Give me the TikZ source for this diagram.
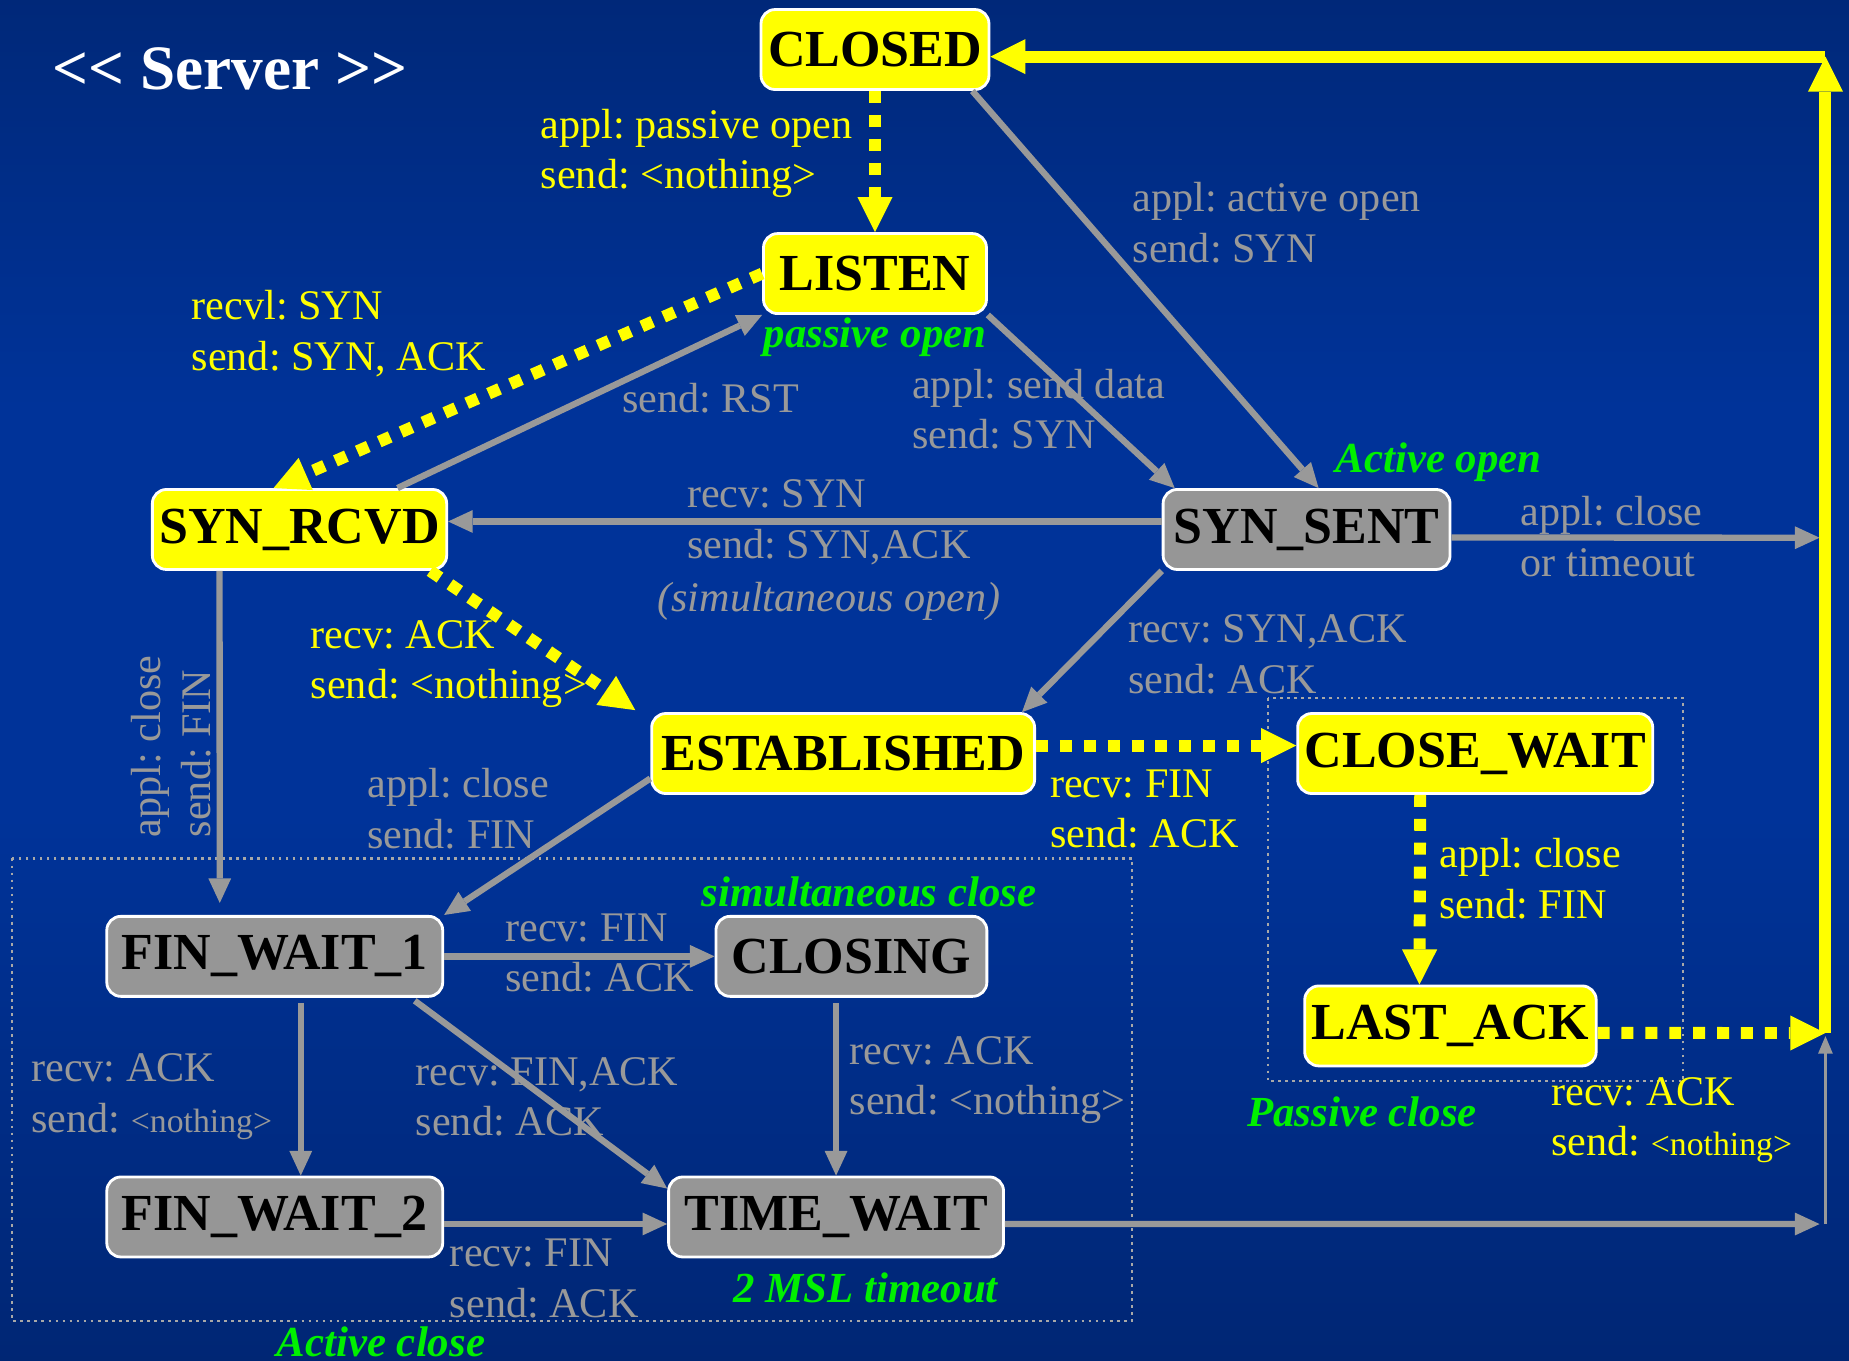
\documentclass[tikz,border=0pt]{standalone}
\usepackage{fontspec}
\setmainfont{Liberation Serif}
\usetikzlibrary{arrows.meta,calc}
\definecolor{bgtop}{RGB}{0,22,68}
\definecolor{bgmid}{RGB}{0,51,153}
\definecolor{bgbot}{RGB}{0,22,70}
\definecolor{lgray}{RGB}{153,153,153}
\definecolor{boxgray}{RGB}{150,150,150}
\definecolor{ylw}{RGB}{255,255,0}
\definecolor{grn}{RGB}{0,240,0}
\pgfdeclareverticalshading{fond}{100bp}{color(0bp)=(bgbot); color(45bp)=(bgmid); color(60bp)=(bgmid); color(100bp)=(bgtop)}
\newcommand{\petit}[1]{{\fontsize{9.6}{14.4}\selectfont #1}}
\frenchspacing
\tikzset{
  etat/.style={draw=white,line width=0.8pt,rounded corners=4pt,minimum height=0.8cm,
    inner xsep=2pt,inner ysep=0pt,font=\fontsize{14.8}{17}\selectfont\bfseries,text=black},
  jaune/.style={etat,fill=ylw},
  gris/.style={etat,fill=boxgray},
  gfl/.style={draw=lgray,line width=1.8pt,-{Triangle[length=7pt,width=6.5pt,line width=0pt]}},
  jfl/.style={draw=ylw,line width=3.4pt,-{Triangle[length=10pt,width=10pt,line width=0pt]}},
  jpt/.style={jfl,dash pattern=on 3.4pt off 3.4pt},
  lbl/.style={inner sep=0pt,align=left,anchor=west,font=\fontsize{12}{14.4}\selectfont},
  glbl/.style={lbl,text=lgray},
  jlbl/.style={lbl,text=ylw},
  vert/.style={inner sep=0pt,text=grn,font=\fontsize{12.2}{14}\selectfont\bfseries\itshape},
  zone/.style={draw=lgray!85,line width=0.6pt,dash pattern=on 0.8pt off 1.2pt},
}

\begin{document}
\begin{tikzpicture}[x=0.011792cm,y=-0.011792cm]
  \useasboundingbox (0,0) rectangle (1568,1154);
  \shade[shading=fond] (0,0) rectangle (1568,1154);
  % dotted zones
  \draw[zone] (10,728) rectangle (960,1120);
  \draw[zone] (1075,592) rectangle (1427,917);
  \node[text=white,font=\fontsize{18}{20}\selectfont\bfseries] (titre) at (195,58) {<\kern0pt< Server >\kern0pt>};
  % states
  \node[jaune,minimum width=2.23cm] (closed) at (742,42) {CLOSED};
  \node[jaune,minimum width=2.23cm] (listen) at (742,232) {LISTEN};
  \node[jaune,minimum width=2.89cm] (synrcvd) at (254,449) {SYN\_RCVD};
  \node[gris,minimum width=2.87cm] (synsent) at (1108,449) {SYN\_SENT};
  \node[jaune,minimum width=3.83cm] (estab) at (715,639) {ESTABLISHED};
  \node[jaune,minimum width=3.51cm] (closewait) at (1251,639) {CLOSE\_WAIT};
  \node[jaune,minimum width=2.89cm] (lastack) at (1230,870) {LAST\_ACK};
  \node[gris,minimum width=3.36cm] (fw1) at (233,811) {FIN\_WAIT\_1};
  \node[gris,minimum width=2.71cm] (closing) at (722,811) {CLOSING};
  \node[gris,minimum width=3.36cm] (fw2) at (233,1032) {FIN\_WAIT\_2};
  \node[gris,minimum width=3.35cm] (timewait) at (709,1032) {TIME\_WAIT};
  \coordinate (abort) at (1543,456);
  \coordinate (lastend) at (1548,876);
  \coordinate (topcorner) at (1548,48);
  \coordinate (twend) at (1543,1038);
  \coordinate (twcorner) at (1548,1038);
  % transitions
  \draw[jpt] (closed.south) -- (listen.north);
  \draw[jpt] (listen.west) -- ([xshift=-0.26cm]synrcvd.north);
  \draw[gfl] ([xshift=0.98cm]synrcvd.north) -- (listen.south west);
  \draw[gfl] ([xshift=-0.18cm]closed.south east) -- ([xshift=0.12cm]synsent.north);
  \draw[gfl] (listen.south east) -- ([xshift=0.13cm]synsent.north west);
  \draw[gfl] ([yshift=0.08cm]synsent.west) -- ([yshift=0.08cm]synrcvd.east);
  \draw[gfl] ([yshift=-0.08cm]synsent.east) -- (abort);
  \draw[jpt] ([xshift=-0.18cm]synrcvd.south east) -- ([xshift=-0.15cm,yshift=0.02cm]estab.north west);
  \draw[gfl] (synsent.south west) -- ([xshift=-0.14cm]estab.north east);
  \draw[gfl,shorten >=0.12cm] ([xshift=-0.8cm]synrcvd.south) -- ([xshift=-0.55cm]fw1.north);
  \draw[gfl] ([yshift=-0.25cm]estab.west) -- (fw1.north east);
  \draw[jpt] ([yshift=0.08cm]estab.east) -- ([yshift=0.08cm]closewait.west);
  \draw[jpt] ([xshift=-0.55cm]closewait.south) -- ([xshift=-0.31cm]lastack.north);
  \draw[jpt] ([yshift=-0.07cm]lastack.east) -- (lastend);
  \draw[jfl] (lastend) -- (topcorner);
  \draw[jfl] (topcorner) -- (closed.east |- topcorner);
  \draw[gfl] (fw1.east) -- (closing.west);
  \draw[gfl,shorten <=0.05cm] ([xshift=0.26cm]fw1.south) -- ([xshift=0.26cm]fw2.north);
  \draw[gfl,shorten <=0.05cm] ([xshift=1.36cm]fw1.south) -- ([yshift=-0.13cm]timewait.north west);
  \draw[gfl,shorten <=0.05cm] (timewait.north |- closing.south) -- (timewait.north);
  \draw[gfl] ([yshift=-0.07cm]fw2.east) -- ([yshift=-0.07cm]timewait.west);
  \draw[gfl] ([yshift=-0.07cm]timewait.east) -- (twend);
  \draw[lgray,line width=0.7pt,-{Triangle[length=5pt,width=4pt]},shorten >=0.03cm] (twcorner) -- (lastend);
  % labels
  \node[jlbl] (passlbl) at (458,130) {appl: passive open\\send: <nothing>};
  \node[jlbl] (rcvlbl) at (162,283) {recvl: SYN\\send: SYN, ACK};
  \node[glbl] (rstlbl) at (527,338) {send: RST};
  \node[glbl] (actlbl) at (960,189) {appl: active open\\send: SYN};
  \node[glbl] (datalbl) at (773,347) {appl: send data\\send: SYN};
  \node[glbl] (simlbl) at (582,443) {recv: SYN\\send: SYN,ACK};
  \node[glbl,anchor=center,font=\fontsize{12}{14.4}\selectfont\itshape] (simolbl) at (703,510) {(simultaneous open)};
  \node[glbl] (timeoutlbl) at (1289,455) {appl: close\\or timeout};
  \node[jlbl] (acklbl) at (263,563) {recv: ACK\\send: <nothing>};
  \node[glbl] (synacklbl) at (956,555) {recv: SYN,ACK\\send: ACK};
  \node[glbl,rotate=90,anchor=center] (fin1lbl) at (145,633) {appl: close\\send: FIN};
  \node[glbl] (fin2lbl) at (311,686) {appl: close\\send: FIN};
  \node[jlbl] (finlbl) at (890,686) {recv: FIN\\send: ACK};
  \node[jlbl] (fin3lbl) at (1220,745) {appl: close\\send: FIN};
  \node[jlbl] (lacklbl) at (1315,950) {recv: ACK\\send: \petit{<nothing>}};
  \node[glbl] (clslbl) at (428,808) {recv: FIN\\send: ACK};
  \node[glbl] (fw2lbl) at (26,930) {recv: ACK\\send: \petit{<nothing>}};
  \node[glbl] (twlbl) at (352,930) {recv: FIN,ACK\\send: ACK};
  \node[glbl] (cltwlbl) at (720,916) {recv: ACK\\send: <nothing>};
  \node[glbl] (fw2twlbl) at (381,1084) {recv: FIN\\send: ACK};
  % green notes
  \node[vert] (popen) at (742,286) {passive open};
  \node[vert] (aopen) at (1220,392) {Active open};
  \node[vert] (sclose) at (737,756) {simultaneous close};
  \node[vert] (msl) at (734,1092) {2 MSL timeout};
  \node[vert] (pclose) at (1155,943) {Passive close};
  \node[vert] (aclose) at (323,1138) {Active close};
\end{tikzpicture}
\end{document}
